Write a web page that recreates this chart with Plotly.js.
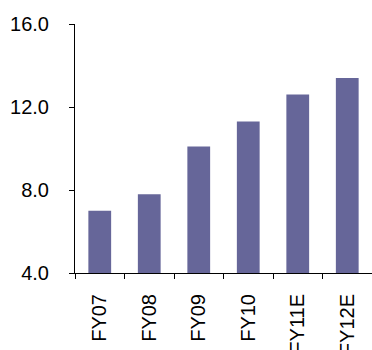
<!DOCTYPE html>
<html><head><meta charset="utf-8">
<script src="https://cdn.plot.ly/plotly-3.0.1.min.js"></script>
<style>html,body{margin:0;padding:0;background:#fff;}#chart{width:372px;height:350px;}</style>
</head><body><div id="chart"></div>
<script>
var categories = ["FY07", "FY08", "FY09", "FY10", "FY11E", "FY12E"];
var values = [7.0, 7.8, 10.1, 11.3, 12.6, 13.4];
var yTickVals = [4, 8, 12, 16];
var yTickText = ["4.0", "8.0", "12.0", "16.0"];

Plotly.newPlot("chart", [{
  type: "bar",
  x: categories,
  y: values,
  marker: {color: "#666699"},
  hoverinfo: "none"
}], {
  width: 372, height: 350,
  margin: {l: 75, r: 0, t: 24, b: 77},
  paper_bgcolor: "#fff", plot_bgcolor: "#fff",
  bargap: 0.54,
  showlegend: false,
  font: {family: "Liberation Sans, Arial, sans-serif", color: "#000", size: 20},
  xaxis: {
    type: "category",
    showline: true, linecolor: "#000", linewidth: 1,
    ticks: "outside", ticklen: 5, tickcolor: "#000", tickson: "boundaries",
    tickangle: -90,
    ticklabelstandoff: 12,
    showgrid: false, zeroline: false,
    tickfont: {size: 20}
  },
  yaxis: {
    range: [4, 16],
    tickvals: yTickVals, ticktext: yTickText,
    showline: true, linecolor: "#000", linewidth: 1,
    ticks: "outside", ticklen: 5, tickcolor: "#000",
    ticklabelstandoff: 16,
    showgrid: false, zeroline: false,
    tickfont: {size: 20}
  }
}, {staticPlot: true, displayModeBar: false});
</script>
</body></html>
